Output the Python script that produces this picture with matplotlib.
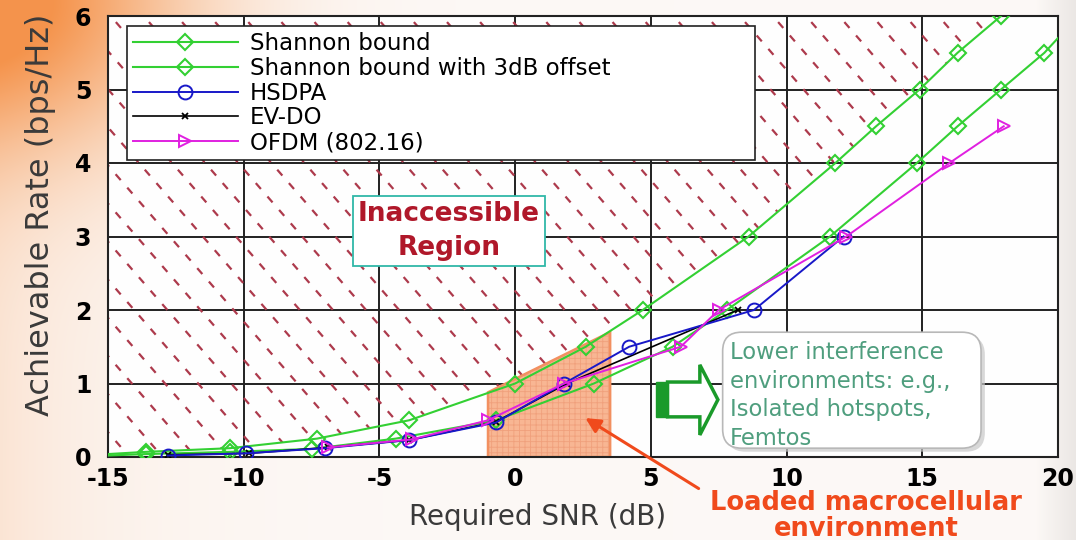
import numpy as np
import matplotlib.pyplot as plt
from matplotlib.patches import Polygon, Rectangle, FancyBboxPatch

# valeurs (SNR en dB, debit en bps/Hz)
snr_shannon = [-15, -13.6, -10.5, -7.3, -3.9, 0.0, 2.6, 4.7, 8.6, 11.8, 13.3, 14.9, 16.3, 17.9]
rate_shannon = [0.04, 0.07, 0.12, 0.25, 0.5, 1.0, 1.5, 2.0, 3.0, 4.0, 4.5, 5.0, 5.5, 6.0]

snr_3db = [-15, -13.6, -10.5, -7.5, -4.4, -0.7, 2.9, 5.8, 7.8, 11.6, 14.8, 16.3, 17.9, 19.5, 20]
rate_3db = [0.02, 0.04, 0.07, 0.11, 0.25, 0.5, 1.0, 1.5, 2.0, 3.0, 4.0, 4.5, 5.0, 5.5, 5.7]

snr_hsdpa = [-12.8, -9.9, -7.0, -3.9, -0.7, 1.8, 4.2, 8.8, 12.1]
rate_hsdpa = [0.02, 0.05, 0.12, 0.23, 0.47, 1.0, 1.5, 2.0, 3.0]

snr_evdo = [-12.8, -9.8, -6.9, -3.9, -0.7, 1.9, 8.2]
rate_evdo = [0.03, 0.05, 0.13, 0.23, 0.48, 1.0, 2.0]

snr_ofdm = [-6.9, -3.8, -1.0, 1.8, 6.1, 7.5, 12.2, 16.0, 18.0]
rate_ofdm = [0.13, 0.24, 0.5, 1.0, 1.5, 2.0, 3.0, 4.0, 4.5]

# zone orange "Loaded macrocellular environment"
macro_x = [-1.0, -1.0, 3.5, 3.5]
macro_y = [0.0, 0.88, 1.70, 0.0]

x_ticks = [-15, -10, -5, 0, 5, 10, 15, 20]
y_ticks = [0, 1, 2, 3, 4, 5, 6]

green = '#33d033'
plt.rcParams['font.family'] = ['DejaVu Sans']
plt.rcParams['axes.unicode_minus'] = False
plt.rcParams['hatch.linewidth'] = 0.6

fig = plt.figure(figsize=(10.76, 5.40), dpi=100)

# fond degrade orange -> blanc
bg = fig.add_axes([0, 0, 1, 1], zorder=-5)
h, w = 540, 1076
yy, xx = np.mgrid[0:h, 0:w]
k = 0.95 * np.exp(-(xx / 190.0) ** 2 - (yy / 150.0) ** 2) + 0.2 * np.exp(-xx / 110.0)
k = np.clip(k, 0, 1)[..., None]
base = np.array([0.99, 0.975, 0.965])
orange = np.array([0.96, 0.58, 0.30])
img = base * (1 - k) + orange * k
gray = np.clip((xx - 1035) / 41.0, 0, 1)[..., None] * 0.07
img = np.clip(img - gray, 0, 1)
bg.imshow(img, aspect='auto', extent=[0, 1, 0, 1], origin='upper')
bg.axis('off')

ax = fig.add_axes([108 / 1076, 1 - 457 / 540, 950 / 1076, 441 / 540])
ax.set_facecolor('#fefefe')
ax.set_xlim(-15, 20)
ax.set_ylim(0, 6)
ax.set_xticks(x_ticks)
ax.set_yticks(y_ticks)
ax.grid(True, color='#222222', linewidth=1.4)
ax.set_axisbelow(True)
for s in ax.spines.values():
    s.set_color('#222222')
    s.set_linewidth(1.5)
ax.tick_params(length=0, labelsize=17)
ax.tick_params(axis='x', pad=7)
ax.tick_params(axis='y', pad=12)
for t in ax.get_xticklabels() + ax.get_yticklabels():
    t.set_fontweight('bold')

# zone inaccessible : hachures rouges en pointille au dessus de Shannon
clip = Polygon(list(zip(snr_shannon, rate_shannon)) + [(-15, 6)], closed=True,
               facecolor='none', edgecolor='none', transform=ax.transData)
ax.add_patch(clip)
slope = -0.425
for x0 in np.arange(-31, 20, 1.22):
    ln, = ax.plot([x0, x0 + 16], [6.1, 6.1 + slope * 16], color='#ad3a4c',
                  linewidth=1.6, linestyle=(0, (3.5, 4.5)), zorder=1)
    ln.set_clip_path(clip)

# zone orange
ax.add_patch(Polygon(list(zip(macro_x, macro_y)), closed=True, facecolor='#f8b693',
                     edgecolor='#f0a07c', hatch='+++', linewidth=0, zorder=1.5))
ax.add_patch(Polygon(list(zip(macro_x, macro_y)), closed=True, facecolor='none',
                     edgecolor='#f29060', linewidth=1.8, zorder=1.6))

ax.plot(snr_shannon, rate_shannon, color=green, lw=1.5, marker='D', ms=8,
        mfc='none', mew=1.5, markevery=list(range(1, len(snr_shannon))),
        label='Shannon bound', zorder=3)
ax.plot(snr_3db, rate_3db, color=green, lw=1.5, marker='D', ms=8,
        mfc='none', mew=1.5, markevery=list(range(1, len(snr_3db) - 1)),
        label='Shannon bound with 3dB offset', zorder=3)
ax.plot(snr_hsdpa, rate_hsdpa, color='#1818c8', lw=1.4, marker='o', ms=10,
        mfc='none', mew=1.4, label='HSDPA', zorder=3.2)
ax.plot(snr_evdo, rate_evdo, color='black', lw=1.2, marker='x', ms=5,
        mew=1.3, label='EV-DO', zorder=3.1)
ax.plot(snr_ofdm, rate_ofdm, color='#e020e0', lw=1.4, marker='>', ms=9,
        mfc='none', mew=1.4, label='OFDM (802.16)', zorder=3.3)

leg = ax.legend(loc='upper left', bbox_to_anchor=(0.02, 0.977, 0.661, 0), mode='expand',
                borderaxespad=0, fontsize=16.5, handlelength=4.6, handletextpad=0.5,
                labelspacing=0.08, borderpad=0.25, fancybox=False, framealpha=1)
leg.get_frame().set_edgecolor('#222222')
leg.get_frame().set_linewidth(1.2)
leg.set_zorder(5)

ax.text(0.359, 0.512, 'Inaccessible\nRegion', transform=ax.transAxes, ha='center',
        va='center', fontsize=19, fontweight='bold', color='#b0182a', linespacing=1.4,
        zorder=6, bbox=dict(boxstyle='square,pad=0.2', facecolor='white',
                            edgecolor='#30b8a8', linewidth=1.3))

# boite "Lower interference"
ax.add_patch(FancyBboxPatch((0.651, 0.012), 0.272, 0.263, transform=ax.transAxes,
                            boxstyle='round,pad=0,rounding_size=0.02', mutation_aspect=950 / 441,
                            facecolor='#c8c8c8', edgecolor='none', alpha=0.7, zorder=5.5))
ax.add_patch(FancyBboxPatch((0.647, 0.020), 0.272, 0.263, transform=ax.transAxes,
                            boxstyle='round,pad=0,rounding_size=0.02', mutation_aspect=950 / 441,
                            facecolor='white', edgecolor='#b8b8b8', linewidth=1.2, zorder=5.6))
ax.text(0.655, 0.262, 'Lower interference\nenvironments: e.g.,\nIsolated hotspots,\nFemtos',
        transform=ax.transAxes, ha='left', va='top', fontsize=16.3, color='#4f9e7e',
        linespacing=1.3, zorder=6)

# fleche verte
ax.add_patch(Rectangle((0.577, 0.091), 0.012, 0.079, transform=ax.transAxes,
                       facecolor='#1a9a2a', edgecolor='#1a9a2a', zorder=6))
arrow_pts = [(0.589, 0.170), (0.623, 0.170), (0.623, 0.209), (0.642, 0.130),
             (0.623, 0.050), (0.623, 0.091), (0.589, 0.091)]
ax.add_patch(Polygon(arrow_pts, closed=True, transform=ax.transAxes, facecolor='white',
                     edgecolor='#1a9a2a', linewidth=2.5, zorder=6))

ax.set_xlabel('Required SNR (dB)', fontsize=20, color='#3a3a3a')
ax.xaxis.set_label_coords(0.452, -0.105)
ax.set_ylabel('Achievable Rate (bps/Hz)', fontsize=23, color='#3a3a3a')
ax.yaxis.set_label_coords(-0.055, 0.55)

fig.text(866 / 1076, 1 - 516 / 540, 'Loaded macrocellular\nenvironment', ha='center',
         va='center', fontsize=18.5, fontweight='bold', color='#f04a1c', linespacing=1.0)
ax.annotate('', xy=(2.5, 0.55), xycoords='data', xytext=(701 / 1076, 1 - 490 / 540),
            textcoords='figure fraction', annotation_clip=False,
            arrowprops=dict(arrowstyle='-|>', color='#f04a1c', lw=2.2, mutation_scale=22),
            zorder=7)

fig.savefig('out.png', dpi=100)
